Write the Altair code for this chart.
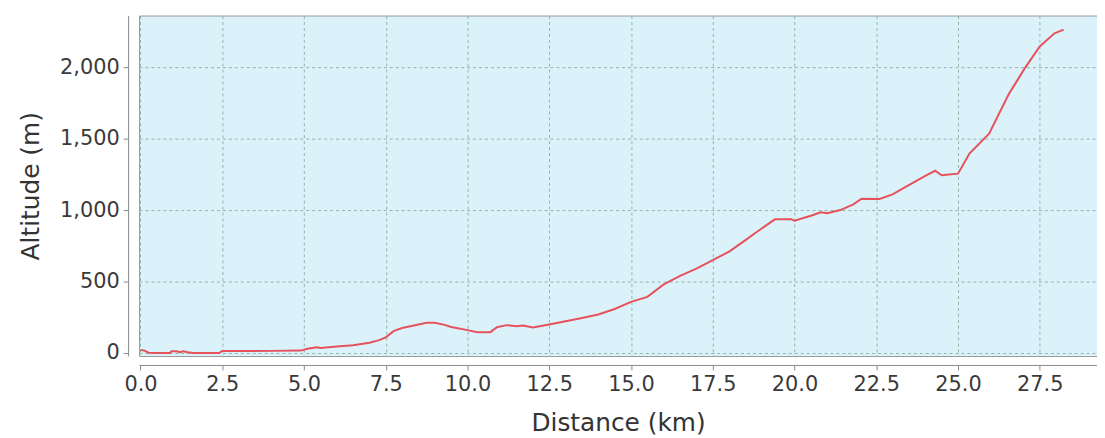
import altair as alt
import pandas as pd

distance_km = [0.0, 0.1, 0.25, 0.5, 0.9, 0.95, 1.1, 1.2, 1.3, 1.45, 1.6, 2.4, 2.5, 3.0, 4.0, 4.9,
               5.1, 5.4, 5.5, 6.0, 6.5, 7.0, 7.3, 7.5, 7.75, 8.0, 8.5, 8.75, 9.0, 9.3, 9.5,
               10.0, 10.3, 10.7, 10.9, 11.2, 11.5, 11.7, 12.0, 12.5, 13.0, 13.5, 14.0, 14.5,
               15.0, 15.5, 16.0, 16.5, 17.0, 17.5, 18.0, 18.5, 18.8, 19.4, 19.9, 20.0, 20.5,
               20.8, 21.0, 21.4, 21.8, 22.05, 22.6, 23.0, 23.4, 24.0, 24.3, 24.5, 25.0, 25.35,
               25.95, 26.55, 27.05, 27.5, 27.95, 28.23]
altitude_m = [22, 18, 2, 0, 0, 12, 12, 5, 12, 5, 0, 0, 14, 14, 15, 17,
              30, 40, 35, 45, 55, 72, 90, 110, 155, 175, 200, 212, 212, 197, 182,
              160, 146, 146, 180, 195, 188, 192, 178, 200, 222, 245, 270, 308,
              358, 393, 480, 540, 590, 650, 710, 790, 840, 935, 935, 925, 960,
              985, 978, 1000, 1040, 1080, 1078, 1110, 1162, 1240, 1275, 1243, 1255, 1395,
              1535, 1810, 1995, 2145, 2237, 2262]

x_ticks = [0.0, 2.5, 5.0, 7.5, 10.0, 12.5, 15.0, 17.5, 20.0, 22.5, 25.0, 27.5]
y_ticks = [0, 500, 1000, 1500, 2000]

df = pd.DataFrame({"Distance": distance_km, "Altitude": altitude_m})

FONT = "DejaVu Sans"
GRID = "#8fb5a5"
AXIS = "#8a8a8a"

chart = (
    alt.Chart(df)
    .mark_line(color="#e5525c", strokeWidth=2, clip=True)
    .encode(
        x=alt.X(
            "Distance:Q",
            scale=alt.Scale(domain=[-0.045, 29.25], nice=False, zero=False),
            axis=alt.Axis(
                title="Distance (km)", values=x_ticks, format=".1f", offset=9,
                grid=True, gridColor=GRID, gridDash=[3, 3], gridWidth=1,
                domainColor=AXIS, tickColor=AXIS, tickSize=5,
                labelFont=FONT, labelFontSize=21, labelColor="#3a3a3a", labelPadding=4,
                titleFont=FONT, titleFontSize=25, titleFontWeight="normal",
                titleColor="#333333", titlePadding=16,
            ),
        ),
        y=alt.Y(
            "Altitude:Q",
            scale=alt.Scale(domain=[-21, 2361], nice=False, zero=False),
            axis=alt.Axis(
                title="Altitude (m)", values=y_ticks, format=",d", offset=11,
                grid=True, gridColor=GRID, gridDash=[3, 3], gridWidth=1,
                domainColor=AXIS, tickColor=AXIS, tickSize=5,
                labelFont=FONT, labelFontSize=21, labelColor="#3a3a3a", labelPadding=4,
                titleFont=FONT, titleFontSize=25, titleFontWeight="normal",
                titleColor="#333333", titlePadding=16,
            ),
        ),
    )
    .properties(
        width=965, height=343,
        autosize=alt.AutoSizeParams(type="none"),
        padding={"left": 132, "top": 6, "right": 0, "bottom": 81},
        background="white",
    )
    .configure_view(fill="#dcf2fb", stroke="#9a9a9a", strokeWidth=1)
)

chart.save("out.html", embed_options={"renderer": "svg", "actions": False})
